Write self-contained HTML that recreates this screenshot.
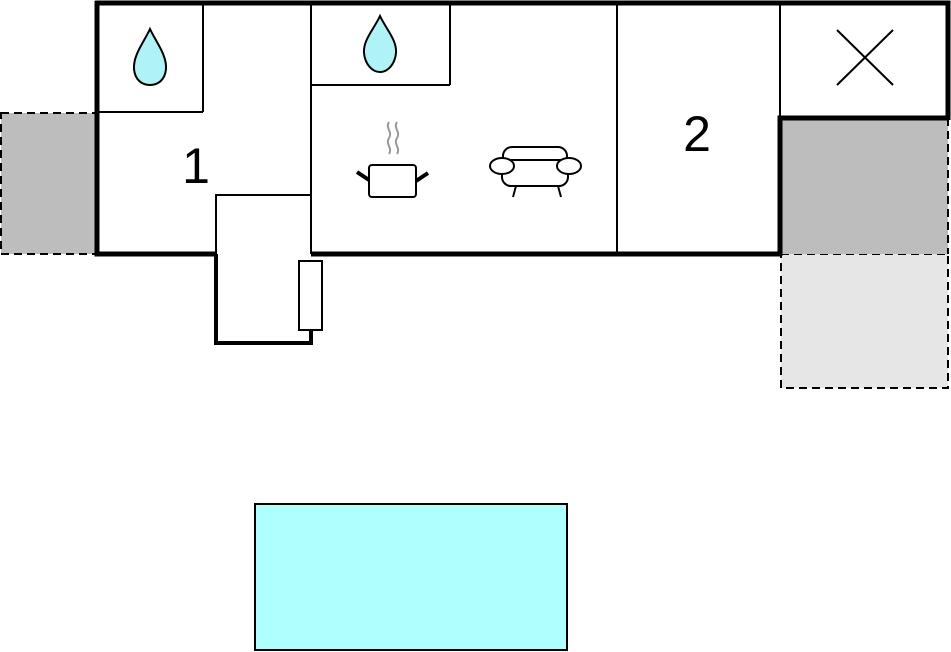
<!DOCTYPE html>
<html><head><style>body{margin:0;background:#fff}svg{display:block}</style></head><body>
<svg width="951" height="652" viewBox="0 0 951 652" xmlns="http://www.w3.org/2000/svg">
<rect x="1" y="113" width="96" height="141" fill="#bdbdbd" stroke="#000" stroke-width="2" stroke-dasharray="8,5"/>
<rect x="781" y="254" width="167" height="134" fill="#e6e6e6" stroke="#000" stroke-width="2" stroke-dasharray="8,5"/>
<rect x="781" y="118" width="167" height="136" fill="#bdbdbd"/>
<line x1="948" y1="118" x2="948" y2="254" stroke="#000" stroke-width="2" stroke-dasharray="8,5"/>
<g stroke="#000" fill="none">
<line x1="97" y1="112" x2="203" y2="112" stroke-width="2"/>
<line x1="203" y1="3" x2="203" y2="112" stroke-width="2"/>
<line x1="311" y1="3" x2="311" y2="254" stroke-width="2"/>
<line x1="311" y1="85" x2="450" y2="85" stroke-width="2"/>
<line x1="450" y1="3" x2="450" y2="85" stroke-width="2"/>
<line x1="617" y1="3" x2="617" y2="254" stroke-width="2"/>
<line x1="780" y1="3" x2="780" y2="118" stroke-width="2"/>
<line x1="216" y1="195" x2="311" y2="195" stroke-width="2"/>
<line x1="216" y1="194" x2="216" y2="254" stroke-width="2"/>
<polyline points="97,1 97,254 216,254" stroke-width="5"/>
<polyline points="95,3 948,3 948,120" stroke-width="5"/>
<polyline points="311,254 780,254" stroke-width="5"/>
<polyline points="948,118 780,118 780,256" stroke-width="5"/>
<polyline points="216,254 216,343 311,343 311,330" stroke-width="4"/>
<rect x="299" y="261" width="23" height="69" fill="#fff" stroke-width="2"/>
<line x1="837" y1="30" x2="893" y2="85" stroke-width="2"/>
<line x1="893" y1="30" x2="837" y2="85" stroke-width="2"/>
</g>
<path d="M150,29 C144,42 133,55 134,69 C135,80 142,85 150,85 C158,85 165,80 166,69 C167,55 156,42 150,29Z" fill="#aff3f7" stroke="#000" stroke-width="2"/>
<path d="M380,16 C374,29 363,40 364,53 C365,64 372,72 380,72 C388,72 395,64 396,53 C397,40 386,29 380,16Z" fill="#aff3f7" stroke="#000" stroke-width="2"/>
<g fill="none" stroke="#999" stroke-width="2"><path d="M389,122 c-4,6 4,10 0,16 c-4,6 4,10 0,16"/><path d="M397,122 c-4,6 4,10 0,16 c-4,6 4,10 0,16"/></g>
<g fill="none" stroke="#000" stroke-width="2">
<rect x="369" y="165" width="47" height="32" rx="3"/>
<line x1="357" y1="172" x2="369" y2="180" stroke-width="4"/><line x1="428" y1="173" x2="416" y2="181" stroke-width="4"/>
<rect x="503" y="147" width="64" height="26" rx="9"/>
<rect x="502" y="160" width="66" height="26" rx="9" fill="#fff"/>
<ellipse cx="502" cy="166" rx="12" ry="8" fill="#fff"/><ellipse cx="569" cy="166" rx="12" ry="8" fill="#fff"/>
<line x1="516" y1="186" x2="513" y2="197"/><line x1="558" y1="186" x2="561" y2="197"/>
</g>
<text x="196" y="183" font-family="Liberation Sans, sans-serif" font-size="50" text-anchor="middle">1</text>
<text x="697" y="151" font-family="Liberation Sans, sans-serif" font-size="50" text-anchor="middle">2</text>
<rect x="255" y="504" width="312" height="146" fill="#b0ffff" stroke="#000" stroke-width="2"/>
</svg>
</body></html>
